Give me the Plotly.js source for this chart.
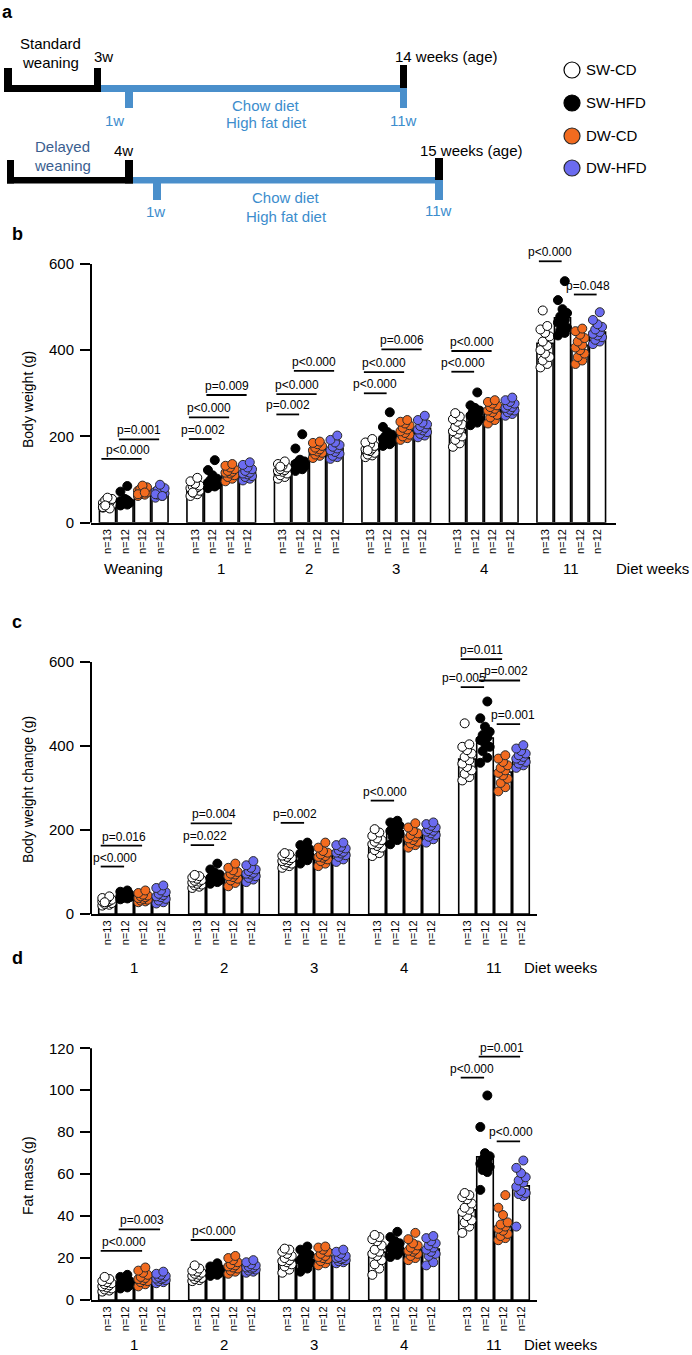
<!DOCTYPE html>
<html><head><meta charset="utf-8">
<script src="https://cdn.plot.ly/plotly-3.0.1.min.js"></script>
<style>html,body{margin:0;padding:0;background:#fff}#chart{width:692px;height:1355px}</style>
</head><body><div id="chart"></div>
<script>
// ---------------- DATA ----------------
const seriesNames = ['SW-CD','SW-HFD','DW-CD','DW-HFD'];
const nLabels = ['n=13','n=12','n=12','n=12'];
const groupsB = ['Weaning','1','2','3','4','11'];
const groupsCD = ['1','2','3','4','11'];

// Panel b: body weight (g), bar means
const bwMean_SWCD  = [43, 80, 122, 172, 216, 416];
const bwMean_SWHFD = [52, 98, 142, 200, 252, 475];
const bwMean_DWCD  = [72, 117, 170, 215, 262, 411];
const bwMean_DWHFD = [70, 116, 172, 219, 267, 442];
// individual animals
const bw_SWCD = [
  [35,38,40,42,44,46,48,52,55,58,36,33,40],
  [62,66,70,74,78,80,82,84,86,90,96,104,70],
  [102,106,110,114,118,120,122,124,128,132,136,142,130],
  [152,156,158,162,166,170,172,176,178,182,186,194,168],
  [176,184,192,200,206,212,216,222,228,234,240,246,254],
  [360,368,376,384,392,400,410,420,432,440,448,456,492]];
const bw_SWHFD = [
  [40,42,45,47,48,50,52,44,46,55,72,85],
  [80,84,86,88,90,92,95,98,102,110,122,145],
  [120,124,128,130,132,136,138,140,142,146,172,205],
  [178,182,186,188,190,194,198,200,204,210,222,256],
  [226,232,236,240,244,248,252,256,260,266,272,302],
  [434,440,446,452,458,464,470,478,486,495,516,560]];
const bw_DWCD = [
  [62,65,68,70,72,74,76,78,82,86,66,70],
  [96,102,106,110,114,116,118,120,124,128,132,136],
  [150,155,158,162,165,168,170,174,178,182,185,188],
  [192,196,200,204,208,212,216,220,226,230,234,238],
  [230,238,244,250,256,260,264,268,272,276,280,284],
  [368,376,384,392,400,406,412,420,428,436,444,450]];
const bw_DWHFD = [
  [58,62,65,68,70,72,74,76,80,88,66,62],
  [98,102,106,108,112,114,116,120,124,128,134,140],
  [148,152,155,160,164,168,172,176,180,186,192,202],
  [198,202,206,210,214,216,220,224,228,232,238,248],
  [248,252,256,260,262,266,268,272,276,280,284,290],
  [414,420,424,430,434,438,442,448,454,460,470,488]];

// Panel c: body weight change (g)
const bwcMean_SWCD  = [30, 77, 128, 169, 369];
const bwcMean_SWHFD = [44, 89, 145, 198, 419];
const bwcMean_DWCD  = [40, 92, 138, 183, 338];
const bwcMean_DWHFD = [44.5, 98, 147, 197, 372];
const bwc_SWCD = [
  [20,22,24,26,28,30,31,32,34,36,38,42,28],
  [62,65,68,70,72,75,77,79,81,84,87,90,93],
  [110,114,117,120,123,126,128,130,133,136,139,142,145],
  [138,145,152,158,162,166,168,172,176,180,186,194,202],
  [318,326,334,342,350,358,366,374,382,390,398,404,454]];
const bwc_SWHFD = [
  [35,37,38,40,41,42,44,45,47,50,53,56],
  [72,76,78,80,84,86,88,90,94,98,106,120],
  [120,128,134,138,142,144,146,150,154,158,164,170],
  [166,176,184,190,194,198,202,206,210,214,218,222],
  [360,372,388,398,406,414,420,426,434,446,466,506]];
const bwc_DWCD = [
  [28,30,32,34,36,38,40,42,44,46,50,56],
  [66,74,80,84,88,90,94,96,100,104,110,120],
  [114,120,126,130,134,136,138,142,146,150,158,170],
  [158,164,168,172,176,180,184,188,192,198,206,216],
  [292,302,312,322,330,336,342,348,354,362,370,378]];
const bwc_DWHFD = [
  [25,28,32,36,40,42,45,48,52,56,62,68],
  [76,82,86,90,94,96,98,102,106,110,116,126],
  [124,130,136,140,144,146,148,152,156,160,164,170],
  [170,178,184,188,192,196,198,202,206,210,214,218],
  [348,354,358,362,366,370,374,378,382,388,394,402]];

// Panel d: fat mass (g)
const fmMean_SWCD  = [7, 12.2, 19.2, 22.8, 43];
const fmMean_SWHFD = [8.3, 14.1, 19.4, 25.3, 68.3];
const fmMean_DWCD  = [10.6, 16.5, 21, 24.2, 35];
const fmMean_DWHFD = [10.5, 15.6, 20.2, 24.3, 54.4];
const fm_SWCD = [
  [4,4.5,5,5.5,6,6.5,7,7.5,8,8.5,9,10,11],
  [9,9.5,10,10.5,11,11.5,12,12.5,13,13.5,14,15,16.5],
  [13,14.5,16,17,18,18.5,19,20,21,22,23,24,24.5],
  [12,15,17,19,21,22,23,24,26,28,29,30,31],
  [32,35,37,38,40,42,43,44,46,48,49,50,51]];
const fm_SWHFD = [
  [5.5,6,6.5,7,7.5,8,8.2,8.5,9,10,11,12],
  [11.5,12,12.5,13,13.5,14,14,14.5,15,15.5,16,17.5],
  [13.5,15,16.5,17.5,18,19,19.5,20.5,21.5,22.5,24,25.5],
  [20.5,21.5,22,23,24,24.5,25,26,27,28,30,32.5],
  [52.5,61,62,63.5,64.5,65,66,67,68.5,70,82.5,97.5]];
const fm_DWCD = [
  [6.5,7.5,8.5,9,9.5,10,10.5,11,12,13,14,15.5],
  [12.5,13.5,14,15,15.5,16,16.5,17,18,19,20,21],
  [16.5,17.5,18.5,19.5,20,20.5,21,22,23,24,25,25.5],
  [19,20,21,22,23,23.5,24,25,26,27,29,32],
  [28.5,29.5,30.5,31.5,33,34,35,36,37,40.5,44,50]];
const fm_DWHFD = [
  [8,8.5,9,9.5,10,10.2,10.5,11,11.5,12,12.5,13.5],
  [13,13.5,14,14.5,15,15.5,15.5,16,16.5,17,18,19],
  [17.5,18,18.5,19,19.5,20,20,20.5,21,22,23,24],
  [16.5,18,21,22,23,24,25,26,27,28,29.5,30.5],
  [35,49.5,50.5,51,52,54,56,57,58.5,60.5,63,66.5]];

// p-value brackets: group, from series, to series, bracket level (axis units), label
const pB_group = [0,0,1,1,1,2,2,2,3,3,3,4,4,5,5];
const pB_from  = [0,1,0,0,1,0,0,1,0,0,1,0,0,0,2];
const pB_to    = [2,3,1,2,3,1,2,3,1,2,3,1,2,1,3];
const pB_level = [148,193,194,244,296,251,298,352,300,349,402,350,398,606,529];
const pB_text  = ['p<0.000','p=0.001','p=0.002','p<0.000','p=0.009','p=0.002','p<0.000','p<0.000','p<0.000','p<0.000','p=0.006','p<0.000','p<0.000','p<0.000','p=0.048'];

const pC_group = [0,0,1,1,2,3,4,4,4,4];
const pC_from  = [0,0,0,0,0,0,0,0,1,2];
const pC_to    = [1,2,1,2,1,1,2,1,3,3];
const pC_level = [113,163,164,216,217,270,607,540,556,452];
const pC_text  = ['p<0.000','p=0.016','p=0.022','p=0.004','p=0.002','p<0.000','p=0.011','p=0.005','p=0.002','p=0.001'];

const pD_group = [0,0,1,4,4,4];
const pD_from  = [0,1,0,0,1,2];
const pD_to    = [2,3,2,1,3,3];
const pD_level = [23.4,33.7,28.6,106,116,75.6];
const pD_text  = ['p<0.000','p=0.003','p<0.000','p<0.000','p=0.001','p<0.000'];

// ---------------- LAYOUT HELPERS ----------------
const W = 692, H = 1355;
const PX = x => x / W, PY = y => 1 - y / H;
const FONT = 'Arial, "Liberation Sans", sans-serif';
const BLUE = '#4A8FCB', TXTBLUE = '#3C8DCD', DARKBLUE = '#3B5E8F';
const fills = ['#ffffff', '#000000', '#F26B1F', '#6B6BF0'];
const outl  = ['#000000', '#000000', '#2a2a2a', '#2a2a2a'];

function jitter(i) { return (((i * 3) % 5) - 2) * 0.13; }
function sem(a) {
  const m = a.reduce((s, v) => s + v, 0) / a.length;
  const v = a.reduce((s, x) => s + (x - m) * (x - m), 0) / (a.length - 1);
  return Math.sqrt(v) / Math.sqrt(a.length);
}

const panels = [
  { xa: 'x', ya: 'y', groups: groupsB, means: [bwMean_SWCD, bwMean_SWHFD, bwMean_DWCD, bwMean_DWHFD],
    pts: [bw_SWCD, bw_SWHFD, bw_DWCD, bw_DWHFD],
    pg: pB_group, pf: pB_from, pt: pB_to, pl: pB_level, ptx: pB_text, pshift: [6,0,3,0,0,0,0,0,0,0,0,0,0,0,3],
    axisTop: 600, tickvals: [0, 200, 400, 600], title: 'Body weight (g)', titleY: 400,
    groupY: 568, dom: [91, 616], ydom: [238, 522.7], range: [0, 660], unit: 17.5, first: 107.5, dwX: 652 },
  { xa: 'x2', ya: 'y2', groups: groupsCD, means: [bwcMean_SWCD, bwcMean_SWHFD, bwcMean_DWCD, bwcMean_DWHFD],
    pts: [bwc_SWCD, bwc_SWHFD, bwc_DWCD, bwc_DWHFD],
    pg: pC_group, pf: pC_from, pt: pC_to, pl: pC_level, ptx: pC_text, pshift: [3,3,3,3,3,3,0,-8,7,5],
    axisTop: 600, tickvals: [0, 200, 400, 600], title: 'Body weight change (g)', titleY: 790,
    groupY: 967, dom: [91, 537], ydom: [645.2, 914], range: [0, 640], unit: 18, first: 107, dwX: 560 },
  { xa: 'x3', ya: 'y3', groups: groupsCD, means: [fmMean_SWCD, fmMean_SWHFD, fmMean_DWCD, fmMean_DWHFD],
    pts: [fm_SWCD, fm_SWHFD, fm_DWCD, fm_DWHFD],
    pg: pD_group, pf: pD_from, pt: pD_to, pl: pD_level, ptx: pD_text, pshift: [3,3,3,0,3,3],
    axisTop: 120, tickvals: [0, 20, 40, 60, 80, 100, 120], title: 'Fat mass (g)', titleY: 1176,
    groupY: 1344, dom: [91, 537], ydom: [1037.8, 1300], range: [0, 125], unit: 18, first: 107, dwX: 560 }
];

const traces = [], shapes = [], annotations = [];
const layout = {
  width: W, height: H, autosize: false, showlegend: false,
  margin: { l: 0, r: 0, t: 0, b: 0, pad: 0 },
  paper_bgcolor: '#fff', plot_bgcolor: 'rgba(0,0,0,0)',
  font: { family: FONT, color: '#000' }
};

panels.forEach((P, pi) => {
  const sfx = pi === 0 ? '' : String(pi + 1);
  const leftU = -(P.first - P.dom[0]) / P.unit;
  const rightU = leftU + (P.dom[1] - P.dom[0]) / P.unit;
  const tv = [], tt = [];
  P.groups.forEach((g, gi) => { for (let s = 0; s < 4; s++) { tv.push(gi * 5 + s); tt.push(nLabels[s]); } });
  layout['xaxis' + sfx] = {
    domain: [PX(P.dom[0]), PX(P.dom[1])], range: [leftU, rightU], anchor: 'y' + sfx,
    showline: true, linecolor: '#000', linewidth: 2, ticks: '', showgrid: false, zeroline: false,
    tickmode: 'array', tickvals: tv, ticktext: tt, tickangle: -90,
    tickfont: { size: 11, family: FONT, color: '#000' }, fixedrange: true
  };
  layout['yaxis' + sfx] = {
    domain: [PY(P.ydom[1]), PY(P.ydom[0])], range: P.range, anchor: 'x' + sfx,
    showline: false, ticks: 'outside', ticklen: 10, tickwidth: 2, tickcolor: '#000',
    tickmode: 'array', tickvals: P.tickvals, showgrid: false, zeroline: false,
    tickfont: { size: 15, family: FONT, color: '#000' }, ticklabelstandoff: 3, fixedrange: true
  };
  shapes.push({ type: 'line', xref: P.xa + ' domain', yref: P.ya, x0: 0, x1: 0, y0: 0, y1: P.axisTop,
    line: { color: '#000', width: 2 } });

  // bars
  for (let s = 0; s < 4; s++) {
    traces.push({
      type: 'bar', xaxis: P.xa, yaxis: P.ya, name: seriesNames[s],
      x: P.groups.map((g, gi) => gi * 5 + s), y: P.means[s], width: 0.92,
      marker: { color: '#ffffff', line: { color: '#000', width: 1.6 } },
      error_y: { type: 'data', array: P.pts[s].map(sem), visible: true, color: '#000', thickness: 1.2, width: 3 },
      hoverinfo: 'skip'
    });
  }
  // points
  for (let s = 0; s < 4; s++) {
    const xs = [], ys = [];
    P.pts[s].forEach((arr, gi) => arr.forEach((v, i) => { xs.push(gi * 5 + s + jitter(i)); ys.push(v); }));
    traces.push({
      type: 'scatter', mode: 'markers', xaxis: P.xa, yaxis: P.ya, name: seriesNames[s],
      x: xs, y: ys, cliponaxis: false,
      marker: { size: 9, color: fills[s], line: { color: outl[s], width: 1 } }, hoverinfo: 'skip'
    });
  }
  // p-value brackets
  P.pg.forEach((g, k) => {
    const x0 = g * 5 + P.pf[k] - 0.35, x1 = g * 5 + P.pt[k] - 0.05;
    shapes.push({ type: 'line', xref: P.xa, yref: P.ya, x0: x0, x1: x1, y0: P.pl[k], y1: P.pl[k],
      line: { color: '#000', width: 1.8 } });
    annotations.push({ xref: P.xa, yref: P.ya, x: (x0 + x1) / 2, y: P.pl[k], text: P.ptx[k],
      showarrow: false, xanchor: 'center', yanchor: 'bottom', xshift: P.pshift[k], yshift: 0,
      font: { family: FONT, size: 12, color: '#000' } });
  });
  // group labels
  P.groups.forEach((g, gi) => {
    annotations.push({ xref: P.xa, yref: 'paper', x: gi * 5 + 1.5, y: PY(P.groupY), text: g,
      showarrow: false, xanchor: 'center', yanchor: 'middle', font: { size: 15, family: FONT } });
  });
  annotations.push({ xref: 'paper', yref: 'paper', x: PX(P.dwX), y: PY(P.groupY), text: 'Diet weeks',
    showarrow: false, xanchor: 'center', yanchor: 'middle', font: { size: 15, family: FONT } });
  // y-axis title
  annotations.push({ xref: 'paper', yref: 'paper', x: PX(28), y: PY(P.titleY), text: P.title, textangle: -90,
    showarrow: false, xanchor: 'center', yanchor: 'middle', font: { size: 14, family: FONT } });
});

// panel letters
[['a', 7, 12], ['b', 17, 234], ['c', 17, 622], ['d', 17, 958]].forEach(([t, x, y]) => {
  annotations.push({ xref: 'paper', yref: 'paper', x: PX(x), y: PY(y), text: '<b>' + t + '</b>',
    showarrow: false, xanchor: 'center', yanchor: 'middle', font: { size: 18, family: FONT } });
});

// ---------------- PANEL a (timeline schematic) ----------------
function rect(x0, y0, x1, y1, c) {
  shapes.push({ type: 'rect', xref: 'paper', yref: 'paper', x0: PX(x0), x1: PX(x1), y0: PY(y1), y1: PY(y0),
    fillcolor: c, line: { width: 0 } });
}
function txt(t, x, y, c, anchor) {
  annotations.push({ xref: 'paper', yref: 'paper', x: PX(x), y: PY(y), text: t, showarrow: false,
    xanchor: anchor || 'center', yanchor: 'middle', font: { size: 15, family: FONT, color: c } });
}
// row 1
rect(101, 85, 407, 92, BLUE);
rect(125, 92, 133, 108, BLUE);
rect(400, 88, 407, 108, BLUE);
rect(4, 85, 101, 92, '#000');
rect(4, 68, 12, 92, '#000');
rect(94, 68, 101, 92, '#000');
rect(400, 65, 407, 88, '#000');
txt('Standard', 50, 43, '#000'); txt('weaning', 50, 62, '#000');
txt('3w', 103, 57, '#000');
txt('14 weeks (age)', 393, 57, '#000', 'left');
txt('1w', 115, 120, TXTBLUE); txt('11w', 403, 120, TXTBLUE);
txt('Chow diet', 266, 105, TXTBLUE); txt('High fat diet', 266, 123, TXTBLUE);
// row 2
rect(133, 177, 443, 183.5, BLUE);
rect(153, 183, 161, 200, BLUE);
rect(435, 180, 443, 200, BLUE);
rect(7, 177, 133, 183.5, '#000');
rect(7, 160, 14, 183.5, '#000');
rect(125, 160, 133, 183.5, '#000');
rect(435, 158, 443, 180, '#000');
txt('Delayed', 62, 147, DARKBLUE); txt('weaning', 62, 165, DARKBLUE);
txt('4w', 123, 150, '#000');
txt('15 weeks (age)', 418, 150, '#000', 'left');
txt('1w', 155, 211, TXTBLUE); txt('11w', 439, 210, TXTBLUE);
txt('Chow diet', 286, 197, TXTBLUE); txt('High fat diet', 286, 216, TXTBLUE);

// legend
const legY = [70, 103, 136, 168];
seriesNames.forEach((n, s) => {
  shapes.push({ type: 'circle', xref: 'paper', yref: 'paper', x0: PX(564), x1: PX(580),
    y0: PY(legY[s] + 8), y1: PY(legY[s] - 8), fillcolor: fills[s], line: { color: outl[s], width: 1.2 } });
  txt(n, 584, legY[s], '#000', 'left');
});

layout.shapes = shapes;
layout.annotations = annotations;
Plotly.newPlot('chart', traces, layout, { staticPlot: true, displayModeBar: false });
</script>
</body></html>
